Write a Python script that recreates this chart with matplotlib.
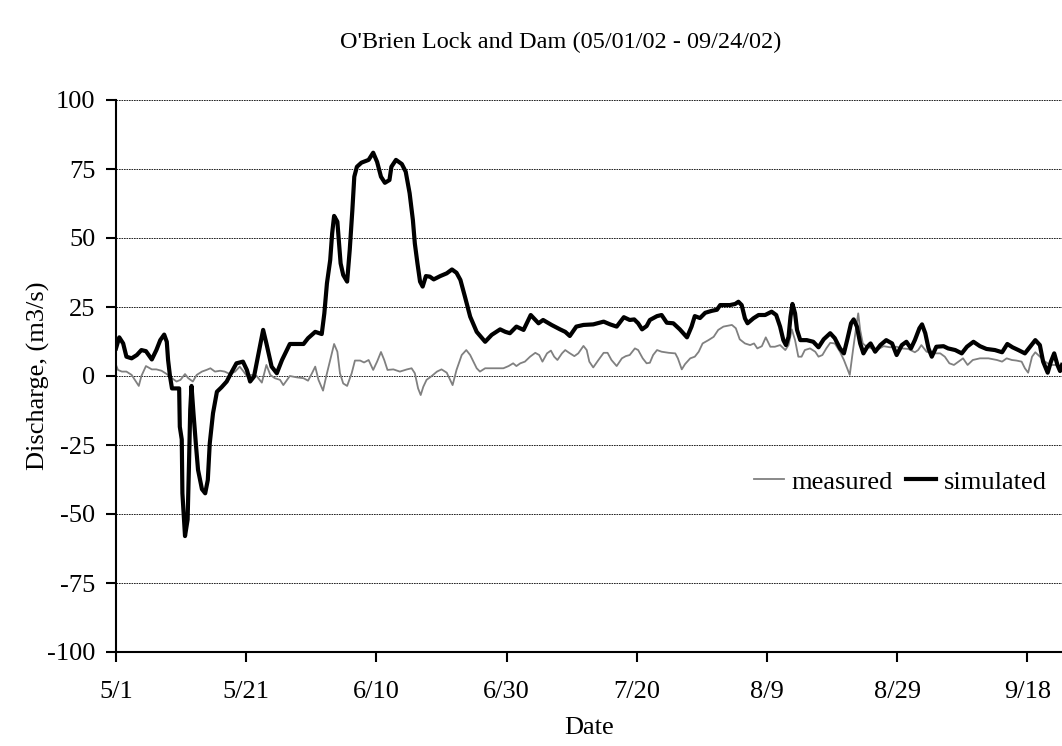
import matplotlib
matplotlib.use('Agg')
import matplotlib.pyplot as plt

plt.rcParams['font.family'] = ['Liberation Serif', 'DejaVu Serif']
plt.rcParams['axes.unicode_minus'] = False

# days since 5/1/02
sim_days = [0, 0.5, 1.1, 1.6, 2.4, 3.2, 3.9, 4.6, 5.5, 6.2,
            6.8, 7.4, 7.8, 8.0, 8.3, 8.6, 9.3, 9.7, 9.8, 10.1,
            10.2, 10.6, 11.0, 11.2, 11.4, 11.6, 11.9, 12.3, 12.6, 13.2,
            13.7, 14.1, 14.4, 14.9, 15.5, 16.2, 17.0, 17.8, 18.5, 19.5,
            20.1, 20.6, 21.2, 21.9, 22.6, 23.1, 23.9, 24.7, 25.5, 26.7,
            28.8, 29.5, 30.6, 31.6, 32.0, 32.4, 32.9, 33.2, 33.5, 34.0,
            34.3, 34.5, 34.9, 35.5, 35.9, 36.3, 36.6, 37.0, 37.7, 38.8,
            39.5, 40.1, 40.7, 41.3, 42.0, 42.3, 43.0, 43.9, 44.5, 45.1,
            45.6, 45.9, 46.3, 46.7, 47.1, 47.6, 48.2, 48.8, 49.8, 50.8,
            51.6, 52.3, 52.9, 53.6, 54.4, 55.4, 56.7, 57.7, 59.0, 59.8,
            60.5, 61.5, 62.6, 63.7, 64.9, 65.6, 66.9, 68.2, 69.0, 69.7,
            70.7, 71.8, 73.3, 74.9, 75.9, 76.9, 78.0, 78.9, 79.6, 80.2,
            80.8, 81.5, 82.0, 83.1, 83.8, 84.6, 85.6, 86.6, 87.7, 88.4,
            88.9, 89.7, 90.5, 91.5, 92.3, 92.8, 94.3, 95.1, 95.6, 96.1,
            96.6, 97.0, 97.9, 98.7, 99.7, 100.7, 101.4, 102.0, 102.5, 102.9,
            103.3, 103.6, 103.9, 104.3, 104.6, 105.1, 106.1, 107.1, 107.9, 108.7,
            109.7, 110.4, 111.2, 111.8, 112.3, 112.9, 113.3, 113.8, 114.3, 114.8,
            115.4, 115.9, 116.6, 117.4, 118.3, 119.2, 119.9, 120.7, 121.4, 122.1,
            122.7, 123.4, 123.8, 124.3, 124.8, 125.3, 126.0, 127.1, 127.8, 128.9,
            129.9, 130.7, 131.7, 132.7, 133.7, 135.0, 136.1, 136.9, 137.7, 138.6,
            139.6, 140.4, 141.2, 141.9, 142.4, 143.1, 143.6, 144.1, 144.6, 145.0, 145.3]
simulated = [10, 14, 11.8, 7, 6.4, 7.6, 9.4, 9, 6, 9.4,
             13, 15, 12.4, 5.8, -0.2, -4.5, -4.5, -4.5, -18.4, -23,
             -42.5, -58, -52, -33, -12.3, -3.6, -13.5, -25.6, -34, -41,
             -42.5, -37.7, -24.4, -13.5, -5.7, -4.1, -2, 1.6, 4.6, 5.2,
             2.2, -2, -0.2, 8.2, 16.7, 11.8, 3.4, 1, 5.8, 11.6,
             11.6, 13.7, 16, 15.2, 22.7, 33.6, 42, 51.7, 58, 55.9,
             46.8, 40.8, 36.6, 34.2, 45.7, 60, 72.2, 75.8, 77.3, 78.3,
             80.9, 77.6, 72.2, 70, 71, 75.8, 78.3, 76.8, 74, 66.2,
             56.5, 48, 40.8, 34.2, 32.4, 36.2, 36, 35, 36.2, 37.2,
             38.6, 37.4, 34.8, 28.7, 21.5, 16, 12.4, 14.9, 16.9, 16,
             15.5, 17.9, 16.7, 22.1, 19.1, 20.3, 18.5, 16.9, 16, 14.5,
             17.9, 18.5, 18.7, 19.7, 18.7, 17.9, 21.3, 20.3, 20.5, 19.1,
             16.9, 18.1, 20.3, 21.7, 22.1, 19.3, 19.1, 16.9, 14, 17.9,
             21.7, 21, 22.9, 23.6, 24, 25.7, 25.7, 26.1, 26.9, 25.7,
             20.9, 19.1, 20.9, 22.1, 22.1, 23.3, 22.1, 17.9, 13, 11.2,
             14.2, 21.5, 26.1, 22.7, 16.7, 13, 13, 12.4, 10.4, 13.3,
             15.5, 13.7, 10, 8.2, 13, 19.1, 20.5, 17.9, 11.8, 8.2,
             10.6, 11.8, 8.8, 11.2, 13, 11.8, 7.6, 11.2, 12.4, 10,
             13, 17.3, 18.7, 15.5, 10, 7, 10.6, 10.8, 10, 9.4,
             8.2, 10.6, 12.4, 10.8, 9.8, 9.4, 8.6, 11.6, 10.4, 9.4,
             8.2, 10.6, 13, 11.2, 5.2, 1.2, 5.2, 8.2, 4.0, 1.8, 4]

meas_days = [0, 0.3, 0.9, 1.6, 2.4, 2.9, 3.5, 3.9, 4.6, 5.5,
             6.2, 7.0, 7.8, 8.6, 9.3, 9.9, 10.6, 11.1, 11.8, 12.4,
             13.2, 13.9, 14.5, 15.2, 16.0, 16.7, 17.5, 18.3, 19.0, 19.6,
             20.1, 20.8, 21.6, 22.4, 23.1, 23.7, 24.4, 25.2, 25.7, 26.7,
             27.8, 28.8, 29.5, 30.1, 30.6, 31.1, 31.8, 32.3, 32.9, 33.5,
             34.0, 34.4, 34.9, 35.5, 36.2, 36.7, 37.5, 38.1, 38.8, 39.5,
             40.1, 40.7, 41.2, 41.7, 42.6, 43.6, 44.7, 45.4, 45.9, 46.4,
             46.8, 47.2, 47.7, 48.5, 49.3, 50.0, 50.8, 51.7, 52.3, 53.1,
             53.8, 54.4, 54.9, 55.4, 55.9, 56.7, 58.0, 59.5, 60.3, 61.0,
             61.5, 62.1, 62.8, 63.6, 64.4, 65.0, 65.5, 66.2, 66.8, 67.3,
             67.8, 68.5, 69.0, 69.6, 70.4, 71.0, 71.8, 72.3, 72.7, 73.3,
             74.1, 74.9, 75.5, 76.1, 76.9, 77.7, 78.3, 78.9, 79.7, 80.2,
             80.9, 81.5, 82.0, 82.5, 83.1, 83.8, 84.9, 85.9, 86.3, 86.9,
             87.4, 88.2, 88.9, 89.5, 90.1, 91.0, 91.8, 92.5, 93.3, 94.6,
             95.2, 95.8, 96.6, 97.4, 98.0, 98.5, 99.2, 99.8, 100.5, 101.2,
             102.0, 102.8, 103.3, 103.8, 104.3, 104.8, 105.3, 105.8, 106.6, 107.4,
             107.9, 108.5, 109.1, 109.7, 110.4, 111.2, 111.8, 112.3, 112.7, 113.2,
             113.7, 114.0, 114.3, 114.7, 115.3, 116.1, 116.8, 117.9, 118.9, 119.9,
             120.7, 121.7, 122.7, 123.2, 123.7, 124.5, 125.5, 126.6, 127.3, 128.0,
             128.7, 129.4, 130.1, 130.8, 131.6, 132.7, 134.0, 135.3, 136.1, 136.8,
             137.6, 138.3, 139.1, 139.6, 140.1, 140.7, 141.2, 141.9, 142.7, 143.5, 144.5, 145.3]
measured = [4, 2.2, 1.6, 1.6, 0.4, -1.4, -3.6, 0, 3.6, 2.4,
            2.4, 1.9, 0.7, -0.8, -2, -1.4, 0.7, -0.8, -2, 0.4,
            1.6, 2.2, 2.8, 1.6, 1.9, 1.6, 0.7, 1.6, 3.4, 1.6,
            0, 0.4, 0, -2.4, 4, 0.4, -0.8, -1.4, -3.3, 0,
            -0.5, -0.8, -1.7, 1, 3.4, -1.4, -5.3, 0, 5.8, 11.6,
            8.8, 1, -2.7, -3.6, 1, 5.6, 5.6, 4.9, 5.8, 2.2,
            5.2, 8.7, 5.8, 2.2, 2.4, 1.6, 2.4, 2.8, 1, -4.5,
            -6.9, -3.9, -1.4, 0, 1.6, 2.4, 1.2, -3.3, 2.2, 7.6,
            9.4, 7.6, 5.2, 2.8, 1.6, 2.8, 2.8, 2.8, 3.6, 4.6,
            3.6, 4.6, 5.2, 7, 8.4, 7.6, 5.2, 8.2, 9.2, 7,
            5.8, 8.2, 9.4, 8.4, 7.2, 8.2, 10.9, 9.4, 5.2, 3.1,
            5.8, 8.4, 8.4, 5.8, 3.6, 6.4, 7.2, 7.6, 10, 9.4,
            6.4, 4.6, 4.8, 7.6, 9.4, 8.8, 8.4, 8.2, 6.4, 2.4,
            4.3, 6.4, 7, 8.8, 11.8, 13, 14.2, 16.7, 17.9, 18.5,
            17.3, 13.3, 11.8, 11.2, 11.8, 10, 10.8, 14, 10.6, 10.6,
            11.2, 9.4, 11.2, 16.9, 13, 7, 7, 9.4, 10, 8.8,
            7, 7.6, 10, 12, 11.8, 8.8, 5.8, 2.8, 0.4, 9.4,
            17.9, 22.7, 16.7, 11.8, 10.6, 10, 9.4, 10.8, 10.4, 10.6,
            10, 9.8, 8.6, 9.4, 11.2, 8.8, 8.2, 8.2, 7, 4.6,
            4, 5.2, 6.4, 4, 5.8, 6.4, 6.4, 5.8, 5.2, 6.4,
            5.8, 5.6, 5.2, 2.8, 1.2, 7, 8.6, 7, 5.2, 4, 4, 3.4]

tick_days = [0, 20, 40, 60, 80, 100, 120, 140]
tick_labels = ['5/1', '5/21', '6/10', '6/30', '7/20', '8/9', '8/29', '9/18']
y_ticks = [-100, -75, -50, -25, 0, 25, 50, 75, 100]

fs = 19

fig = plt.figure(figsize=(10.62, 7.46), dpi=100)
ax = fig.add_axes([116 / 1062, 94 / 746, 946 / 1062, 552 / 746])

ax.plot(meas_days, measured, color='#808080', linewidth=1.3, label='measured')
ax.plot(sim_days, simulated, color='black', linewidth=3,
        solid_joinstyle='round', label='simulated')

ax.set_xlim(0, 145.3)
ax.set_ylim(-100, 100)
ax.set_xticks(tick_days)
ax.set_xticklabels(tick_labels)
ax.set_yticks(y_ticks)
ax.yaxis.grid(True, color='black', linestyle=(0, (2, 1)), linewidth=0.6)
ax.set_axisbelow(True)

for side in ['top', 'right']:
    ax.spines[side].set_visible(False)
for side in ['left', 'bottom']:
    ax.spines[side].set_linewidth(1.5)

ax.tick_params(axis='y', direction='out', length=7, width=1.5, pad=8, labelsize=fs)
ax.tick_params(axis='x', direction='out', length=7, width=1.5, pad=14, labelsize=fs)

ax.set_xlabel('Date', fontsize=fs)
ax.xaxis.set_label_coords(0.5, -0.118)
ax.set_ylabel('Discharge, (m3/s)', fontsize=fs)
ax.yaxis.set_label_coords(-0.07, 0.5)
fig.text(781 / 1062, 1 - 42 / 746, "O'Brien Lock and Dam (05/01/02 - 09/24/02)",
         fontsize=17.5, ha='right', va='center')

ax.legend(loc='center right', bbox_to_anchor=(0.995, 0.308), ncol=2, frameon=False,
          borderaxespad=0, fontsize=fs, handlelength=1.15, handletextpad=0.28,
          columnspacing=0.5)

fig.savefig('out.png', dpi=100)
